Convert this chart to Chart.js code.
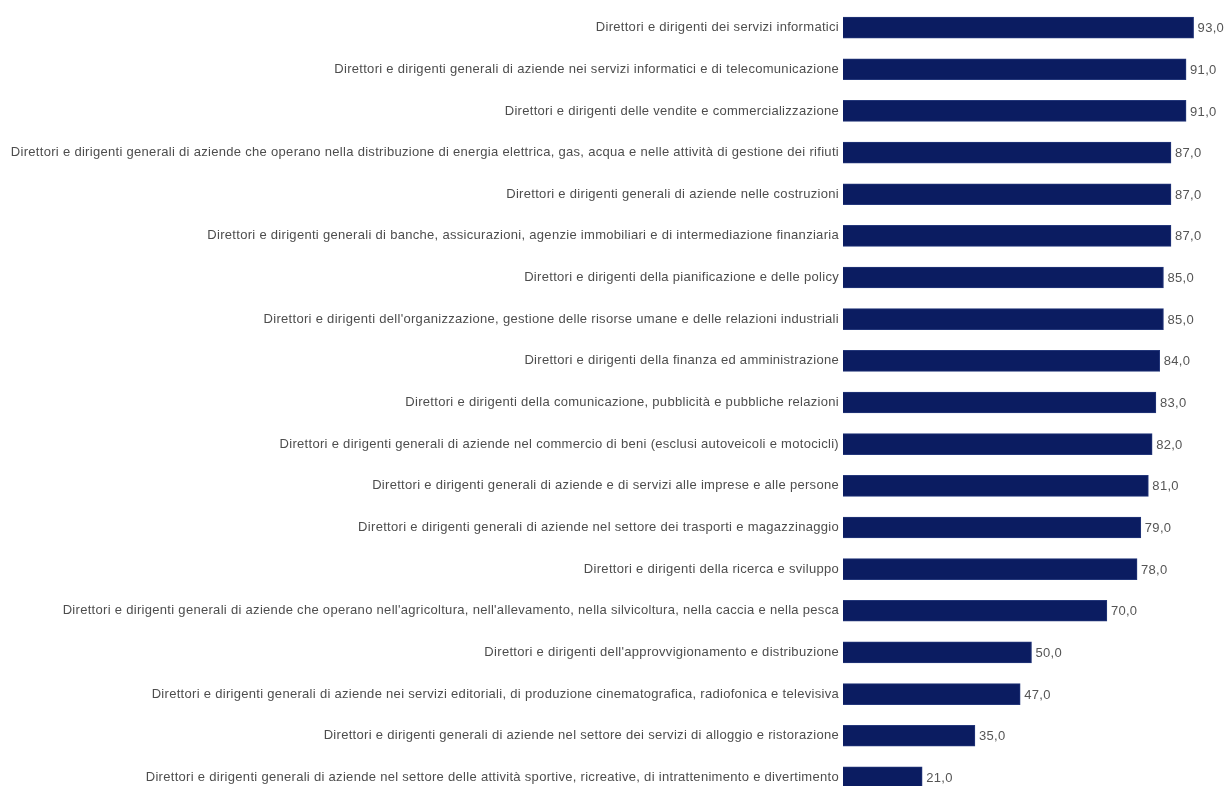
<!DOCTYPE html>
<html>
<head>
<meta charset="utf-8">
<script src="https://cdn.jsdelivr.net/npm/chart.js@4"></script>
<style>
  html, body { margin: 0; padding: 0; background: #fff; overflow: hidden; }
  #wrap { width: 1229px; height: 815px; margin-top: -5px; }
</style>
</head>
<body>
<div id="wrap"><canvas id="dirigentiChart"></canvas></div>
<script>
// Professioni (direttori e dirigenti) e relativo valore percentuale
const professioni = [
    'Direttori e dirigenti dei servizi informatici',
    'Direttori e dirigenti generali di aziende nei servizi informatici e di telecomunicazione',
    'Direttori e dirigenti delle vendite e commercializzazione',
    'Direttori e dirigenti generali di aziende che operano nella distribuzione di energia elettrica, gas, acqua e nelle attività di gestione dei rifiuti',
    'Direttori e dirigenti generali di aziende nelle costruzioni',
    'Direttori e dirigenti generali di banche, assicurazioni, agenzie immobiliari e di intermediazione finanziaria',
    'Direttori e dirigenti della pianificazione e delle policy',
    "Direttori e dirigenti dell'organizzazione, gestione delle risorse umane e delle relazioni industriali",
    'Direttori e dirigenti della finanza ed amministrazione',
    'Direttori e dirigenti della comunicazione, pubblicità e pubbliche relazioni',
    'Direttori e dirigenti generali di aziende nel commercio di beni (esclusi autoveicoli e motocicli)',
    'Direttori e dirigenti generali di aziende e di servizi alle imprese e alle persone',
    'Direttori e dirigenti generali di aziende nel settore dei trasporti e magazzinaggio',
    'Direttori e dirigenti della ricerca e sviluppo',
    "Direttori e dirigenti generali di aziende che operano nell'agricoltura, nell'allevamento, nella silvicoltura, nella caccia e nella pesca",
    "Direttori e dirigenti dell'approvvigionamento e distribuzione",
    'Direttori e dirigenti generali di aziende nei servizi editoriali, di produzione cinematografica, radiofonica e televisiva',
    'Direttori e dirigenti generali di aziende nel settore dei servizi di alloggio e ristorazione',
    'Direttori e dirigenti generali di aziende nel settore delle attività sportive, ricreative, di intrattenimento e divertimento'
];
const valori = [93, 91, 91, 87, 87, 87, 85, 85, 84, 83, 82, 81, 79, 78, 70, 50, 47, 35, 21];

const asseMin = 0;
const asseMax = 100;

const fontTesto = '"Liberation Sans", Arial, sans-serif';

// Spaziatura tra le lettere per tutte le scritte del grafico
const spaziatura = {
    id: 'spaziatura',
    beforeDraw(chart) {
        chart.ctx.letterSpacing = '0.3px';
    }
};

// Scrive il valore (con virgola decimale) a destra di ogni barra
const etichetteValori = {
    id: 'etichetteValori',
    afterDatasetsDraw(chart) {
        const ctx = chart.ctx;
        const meta = chart.getDatasetMeta(0);
        ctx.save();
        ctx.font = '13px ' + fontTesto;
        ctx.fillStyle = '#555555';
        ctx.textAlign = 'left';
        ctx.textBaseline = 'middle';
        meta.data.forEach(function (bar, i) {
            ctx.fillText(valori[i].toFixed(1).replace('.', ','), bar.x + 4, bar.y + 1);
        });
        ctx.restore();
    }
};

const ctx = document.getElementById('dirigentiChart').getContext('2d');
const dirigentiChart = new Chart(ctx, {
    type: 'bar',
    data: {
        labels: professioni,
        datasets: [{
            data: valori,
            backgroundColor: '#0b1c61',
            borderColor: '#24377a',
            borderWidth: 1,
            barThickness: 21
        }]
    },
    options: {
        indexAxis: 'y',
        responsive: true,
        maintainAspectRatio: false,
        animation: false,
        layout: {
            padding: { top: 5, right: 9, bottom: 3, left: 0 }
        },
        scales: {
            x: {
                display: false,
                min: asseMin,
                max: asseMax
            },
            y: {
                grid: { display: false, drawTicks: false },
                border: { display: false },
                afterFit: function (scale) {
                    scale.width = 843;
                },
                ticks: {
                    padding: 4,
                    color: '#4d4d4d',
                    font: { family: fontTesto, size: 13 }
                }
            }
        },
        plugins: {
            legend: { display: false },
            tooltip: { enabled: false }
        }
    },
    plugins: [spaziatura, etichetteValori]
});
</script>
</body>
</html>
